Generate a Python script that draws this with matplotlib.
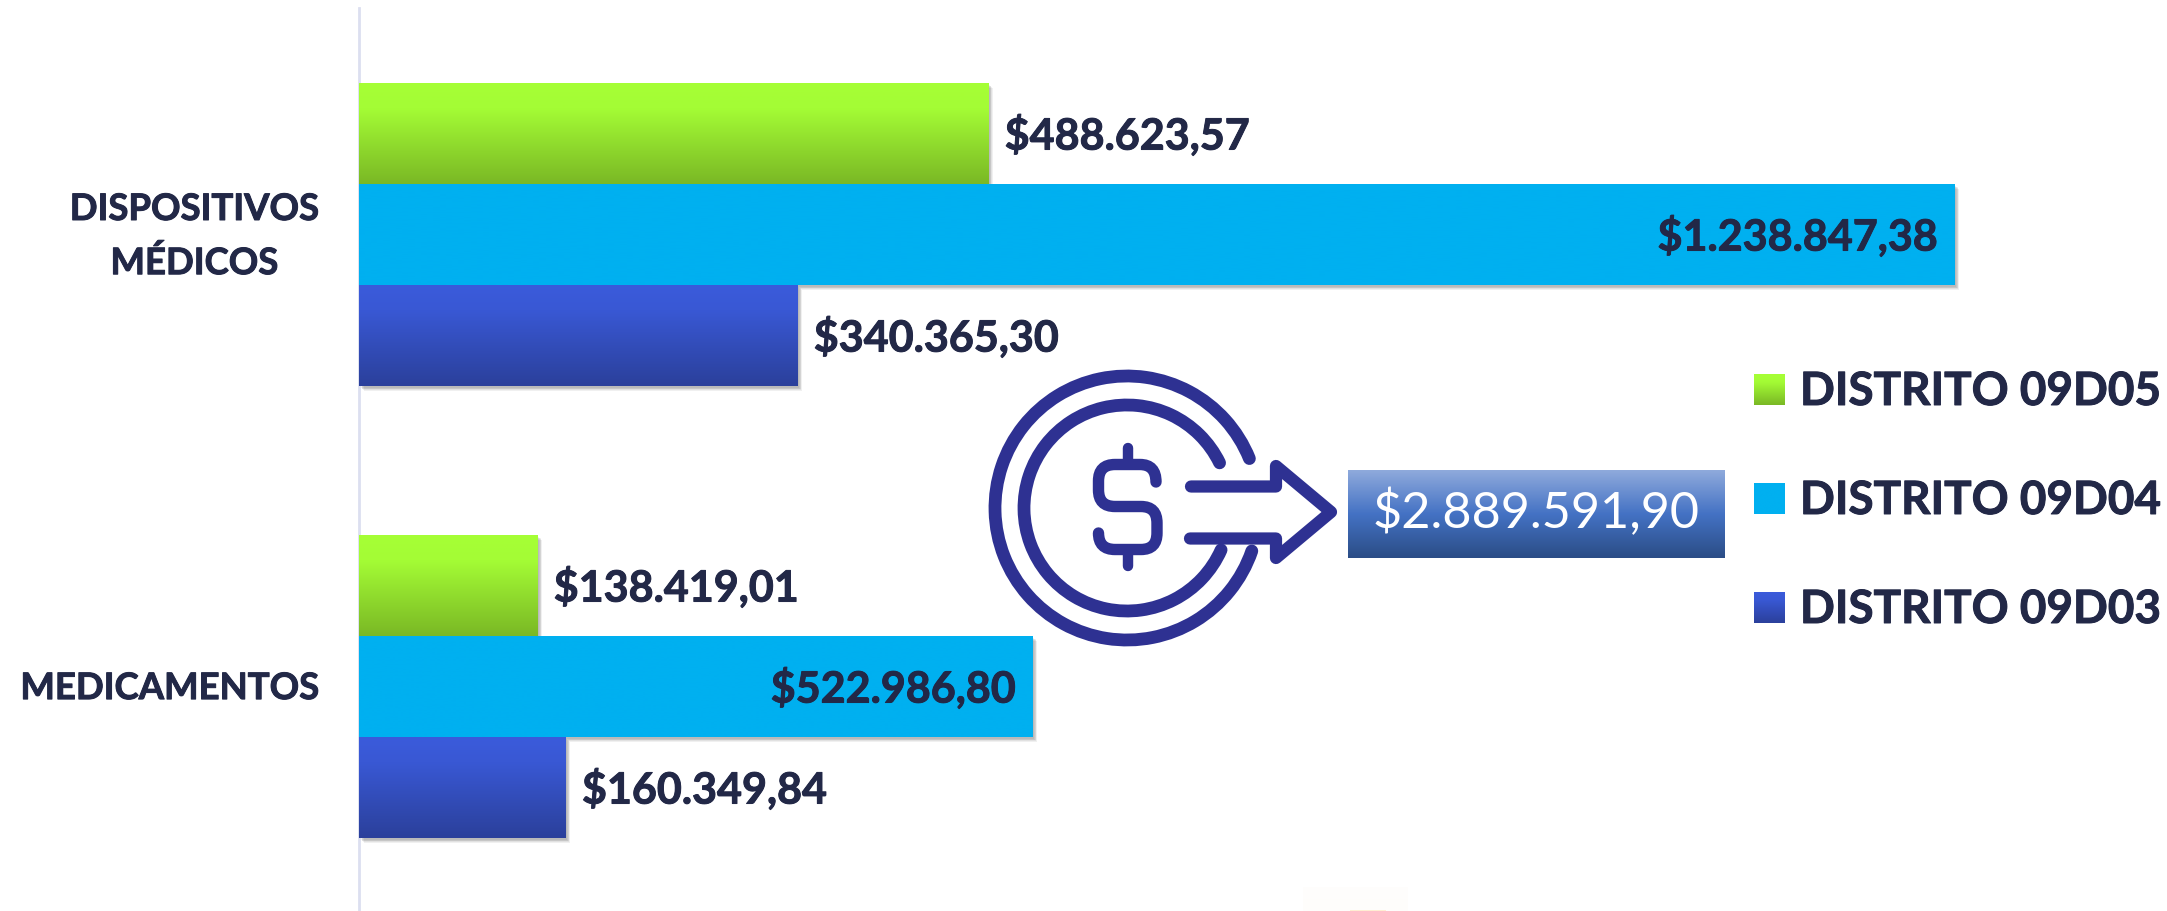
"""Gasto por distrito: dispositivos medicos y medicamentos"""

import numpy as np
import matplotlib
matplotlib.use("Agg")
import matplotlib.pyplot as plt
import matplotlib.patheffects as pe
from matplotlib.patches import Arc, PathPatch, Rectangle
from matplotlib.path import Path
from matplotlib.transforms import ScaledTranslation

categories = ["MEDICAMENTOS", "DISPOSITIVOS\nMÉDICOS"]
distrito_05 = [138419.01, 488623.57]
distrito_04 = [522986.80, 1238847.38]
distrito_03 = [160349.84, 340365.30]
legend_labels = ["DISTRITO 09D05", "DISTRITO 09D04", "DISTRITO 09D03"]
total_label = "$2.889.591,90"

TEXT = "#222847"
ICON = "#2e3192"
W, H = 2167, 911

plt.rcParams["font.family"] = ["Lato", "DejaVu Sans"]


def money(v):
    s = f"{v:,.2f}"
    return "$" + s.replace(",", "_").replace(".", ",").replace("_", ".")


def gradient(ax, extent, stops, zorder=3):
    """Vertical gradient, stops go from top to bottom"""
    ys = np.linspace(0, 1, 128)
    pos = [s[0] for s in stops]
    rgb = np.array([matplotlib.colors.to_rgb(s[1]) for s in stops])
    img = np.stack([np.interp(ys, pos, rgb[:, i]) for i in range(3)], axis=1)
    return ax.imshow(img[:, None, :], extent=extent, aspect="auto", origin="upper",
                     zorder=zorder, interpolation="bilinear")


GREEN = [(0, "#a6ff35"), (0.25, "#a4fc35"), (1, "#7ab825")]
BLUE = [(0, "#3b5bdb"), (0.25, "#3958d4"), (1, "#2b409b")]
CYAN = [(0, "#00b0f0"), (1, "#00b0f0")]
BOX = [(0, "#8faadc"), (0.5, "#4472c4"), (1, "#2b4d86")]

# Lato bold is a bit lighter than the original face
heavier = [pe.withStroke(linewidth=0.7, foreground=TEXT)]

fig = plt.figure(figsize=(W / 100, H / 100), dpi=100, facecolor="white")

# main axes, 1 unit of y is the distance between both groups
x0, px_per_unit = 358.8, 0.0012877
ax = fig.add_axes([x0 / W, 0, 1 - x0 / W, (H - 8) / H])
ax.set_facecolor("none")
xmax = (W - x0) / px_per_unit

bar_h = 101 / 452
y = np.arange(len(categories))
series = [
    (distrito_05, y + bar_h, GREEN),
    (distrito_04, y, CYAN),
    (distrito_03, y - bar_h, BLUE),
]
shadow = [pe.SimplePatchShadow(offset=(o, -o), alpha=0.06, shadow_rgbFace="#000000")
          for o in (3.5, 3, 2.5, 2, 1.5)] + [pe.Normal()]

for values, pos, stops in series:
    bars = ax.barh(pos, values, height=bar_h, color=stops[0][1], zorder=2)
    for bar, val in zip(bars, values):
        bar.set_path_effects(shadow)
        gradient(ax, (0, val, bar.get_y(), bar.get_y() + bar.get_height()), stops,
                 zorder=2.5)
        inside = stops is CYAN
        ax.annotate(money(val), (val, bar.get_y() + bar_h / 2),
                    xytext=(-12 if inside else 12, -1), textcoords="offset points",
                    ha="right" if inside else "left", va="center", fontsize=31,
                    fontweight="bold", color=TEXT, zorder=5, path_effects=heavier)

ax.set_xlim(0, xmax)
ax.set_ylim(-(H - 686.5) / 452, 1 + (234.5 - 8) / 452)
ax.set_xticks([])
ax.set_yticks(y)
ax.set_yticklabels(categories, fontsize=26.3, fontweight="bold", color=TEXT,
                   multialignment="center", linespacing=1.72, va="center",
                   path_effects=heavier)
ax.tick_params(axis="y", length=0, pad=29)
for label in ax.get_yticklabels():
    label.set_transform(label.get_transform()
                        + ScaledTranslation(0, -1.5 / 72, fig.dpi_scale_trans))
for name in ["top", "right", "bottom"]:
    ax.spines[name].set_visible(False)
ax.spines["left"].set_color("#dcdff0")
ax.spines["left"].set_linewidth(2)
ax.spines["left"].set_zorder(1)

# overlay in pixels for legend, total box and icon
ov = fig.add_axes([0, 0, 1, 1])
ov.set_facecolor("none")
ov.axis("off")

for label, top, stops in zip(legend_labels, [375, 484, 593], [GREEN, CYAN, BLUE]):
    gradient(ov, (1754, 1785, top + 30.5, top), stops)
    ov.text(1800, top + 17, label, fontsize=33, fontweight="bold", color=TEXT,
            va="center", ha="left", path_effects=heavier)

gradient(ov, (1348, 1725, 558, 470), BOX)
ov.text(1536.5, 513, total_label, fontsize=36.3, color="white", ha="center", va="center")

# icon
cx, cy = 1127, 508
for r, up, low in [(132, 19, 22), (103, 24, 26)]:
    ov.add_patch(Arc((cx, cy), 2 * r, 2 * r, theta1=up, theta2=360 - low, color=ICON,
                     lw=9.2, capstyle="round"))
arrow = [(1191, 486.5), (1276, 486.5), (1276, 466), (1331, 512), (1276, 558),
         (1276, 538.5), (1190, 538.5)]
ov.plot(*zip(*arrow), color=ICON, lw=8.8, solid_joinstyle="round", solid_capstyle="round")
ov.plot([1128, 1128], [448, 462], color=ICON, lw=7.5, solid_capstyle="round")
ov.plot([1128, 1128], [552, 566], color=ICON, lw=7.5, solid_capstyle="round")
s_points = [(1156, 482), (1156, 464.5), (1140, 464.5), (1115, 464.5), (1098.5, 464.5),
            (1098.5, 481), (1098.5, 490), (1098.5, 506.5), (1115, 506.5), (1141, 506.5),
            (1157, 506.5), (1157, 523), (1157, 533), (1157, 549.5), (1141, 549.5),
            (1115, 549.5), (1098.5, 549.5), (1098.5, 533)]
s_codes = [Path.MOVETO, Path.CURVE3, Path.CURVE3, Path.LINETO, Path.CURVE3, Path.CURVE3,
           Path.LINETO, Path.CURVE3, Path.CURVE3, Path.LINETO, Path.CURVE3, Path.CURVE3,
           Path.LINETO, Path.CURVE3, Path.CURVE3, Path.LINETO, Path.CURVE3, Path.CURVE3]
ov.add_patch(PathPatch(Path(s_points, s_codes), fill=False, edgecolor=ICON, lw=8.2,
                       capstyle="round"))

# faint leftover at the bottom edge
gradient(ov, (1303, 1408, 911, 887), [(0, "#fffefd"), (1, "#fefdfb")], zorder=1)
ov.add_patch(Rectangle((1350, 909.5), 36, 1.5, color="#ffeed2", lw=0))

ov.set_xlim(0, W)
ov.set_ylim(H, 0)

fig.savefig("out.png", dpi=100, facecolor="white")
